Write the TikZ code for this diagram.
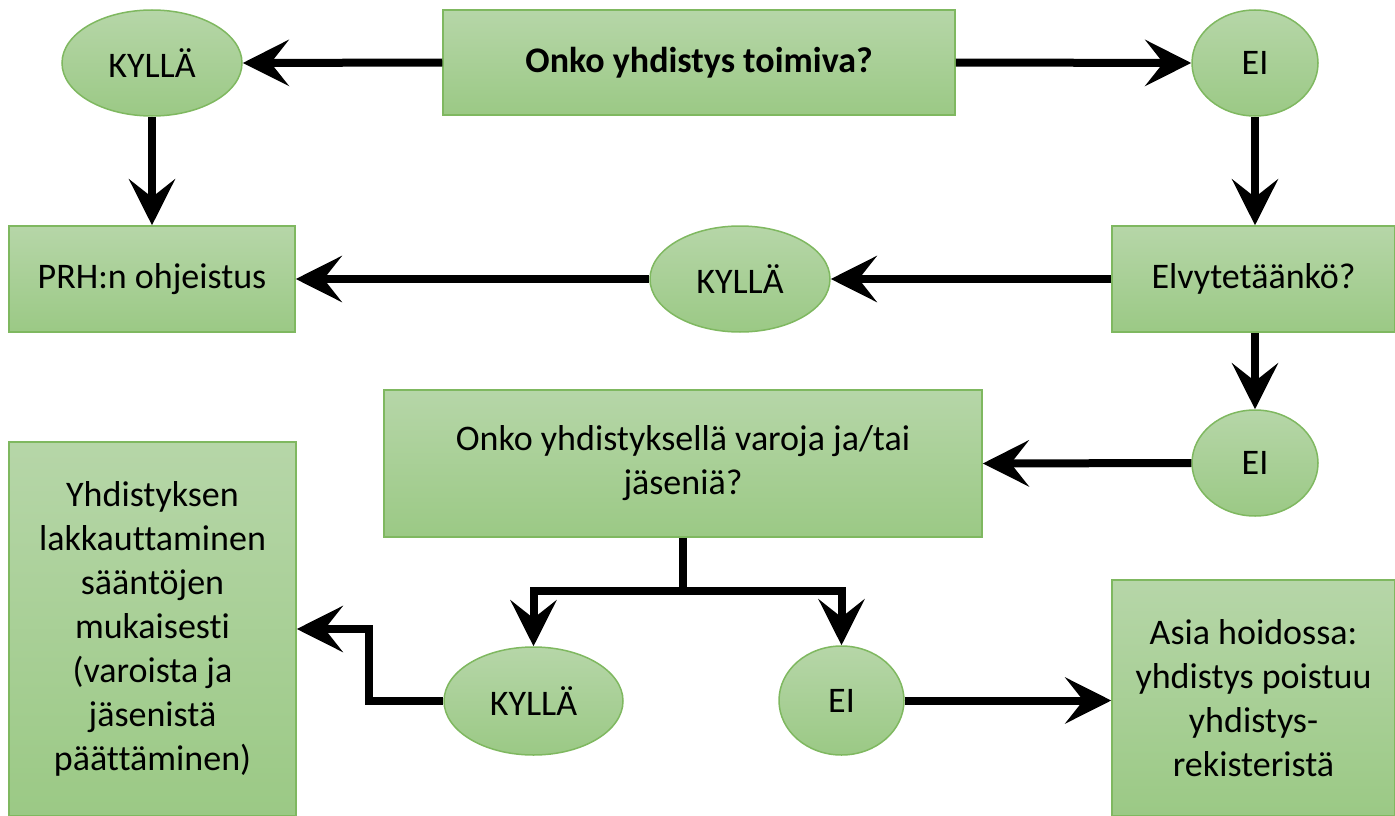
\documentclass[tikz,border=0pt]{standalone}
\usepackage{fontspec}
\setmainfont[Ligatures=NoCommon]{Carlito}
\usetikzlibrary{shapes.geometric,arrows.meta}
\definecolor{gtop}{HTML}{B6D6A8}
\definecolor{gbot}{HTML}{9BC985}
\definecolor{gline}{HTML}{7FB860}
\tikzset{
  base/.style={draw=gline, line width=1.5pt, top color=gtop, bottom color=gbot, inner sep=0pt, align=center, font=\fontsize{36}{44}\selectfont},
  box/.style={base, rectangle},
  oval/.style={base, ellipse},
  arr/.style={line width=8pt, -{Stealth[length=46pt,width=46pt,inset=18pt]}},
  seg/.style={line width=8pt},
}
\begin{document}
\begin{tikzpicture}[x=1pt,y=-1pt]
\useasboundingbox (0,0) rectangle (1395,816);
\node[box, minimum width=512pt, minimum height=105pt] (q1) at (699,62.5) {\textbf{Onko yhdistys toimiva?}};
\node[oval, minimum width=180pt, minimum height=106pt] (ky1) at (152,63) {KYLLÄ};
\node[oval, minimum width=126pt, minimum height=106pt] (ei1) at (1255,63) {EI};
\node[box, minimum width=286pt, minimum height=106pt] (prh) at (152,279) {PRH:n ohjeistus};
\node[oval, minimum width=180pt, minimum height=106pt] (ky2) at (740,279) {KYLLÄ};
\node[box, minimum width=283pt, minimum height=106pt] (elv) at (1253.5,279) {Elvytetäänkö?};
\node[oval, minimum width=126pt, minimum height=106pt] (ei2) at (1255,463) {EI};
\node[box, minimum width=598pt, minimum height=147pt] (q2) at (683,463.5) {Onko yhdistyksellä varoja ja/tai\\jäseniä?};
\node[box, minimum width=287pt, minimum height=374pt] (lak) at (152.5,629) {Yhdistyksen\\lakkauttaminen\\sääntöjen\\mukaisesti\\(varoista ja\\jäsenistä\\päättäminen)};
\node[oval, minimum width=179pt, minimum height=108pt] (ky3) at (533.5,701) {KYLLÄ};
\node[oval, minimum width=125pt, minimum height=109pt] (ei3) at (841.5,700.5) {EI};
\node[box, minimum width=283pt, minimum height=236pt] (asia) at (1253.5,698) {Asia hoidossa:\\yhdistys poistuu\\yhdistys-\\rekisteristä};
\draw[arr] (q1.west) -- (ky1.east);
\draw[arr] (q1.east) -- (ei1.west);
\draw[arr] (ky1.south) -- (prh.north);
\draw[arr] (ei1.south) -- (ei1.south |- elv.north);
\draw[arr] (elv.west) -- (ky2.east);
\draw[arr] (ky2.west) -- (prh.east);
\draw[arr] (ei2.north |- elv.south) -- (ei2.north);
\draw[arr] (ei2.west) -- (q2.east);
\draw[seg] (q2.south) -- ++(0,53) coordinate (split);
\draw[arr] ([xshift=4pt]split) -| (ky3.north);
\draw[arr] ([xshift=-4pt]split) -| (ei3.north);
\draw[arr] (ky3.west) -- ++(-74,0) |- (lak.east);
\draw[arr] (ei3.east) -- (asia.west |- ei3.east);
\end{tikzpicture}
\end{document}
